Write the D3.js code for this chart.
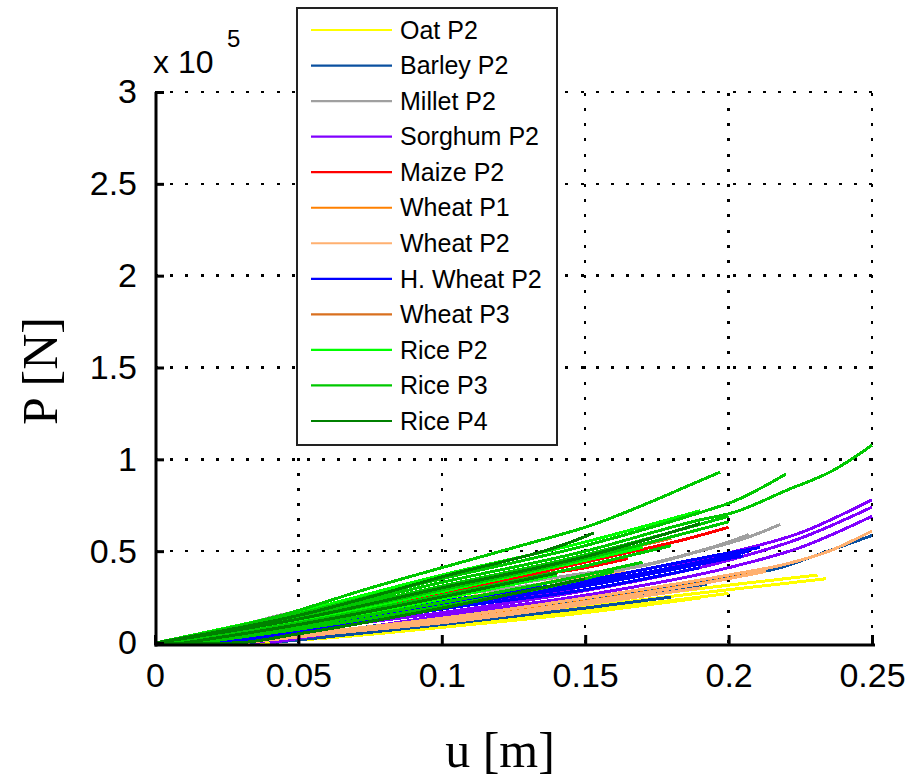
<!DOCTYPE html>
<html>
<head>
<meta charset="utf-8">
<script src="https://cdn.jsdelivr.net/npm/d3@7"></script>
<style>
  body { margin: 0; background: #fff; }
  svg { display: block; }
</style>
</head>
<body>
<svg id="chart" width="922" height="777"></svg>
<script>
// Load–displacement curves, u in metres, P in units of 1e5 N.
// Each series holds several test curves as [u, P] pairs.
const oatP2 = [
  [[0.029,0],[0.05,0.025],[0.075,0.065],[0.1,0.11],[0.15,0.2],[0.2,0.29],[0.22,0.325],[0.234,0.35]],
  [[0.032,0],[0.065,0.035],[0.1,0.095],[0.15,0.18],[0.19,0.25],[0.2,0.27]],
  [[0.036,0],[0.07,0.04],[0.1,0.085],[0.15,0.165],[0.19,0.245]],
  [[0.03,0],[0.06,0.045],[0.1,0.125],[0.15,0.22],[0.2,0.315],[0.231,0.37]]
];
const barleyP2 = [
  [[0.029,0],[0.05,0.04],[0.075,0.09],[0.105,0.15],[0.135,0.2],[0.15,0.23],[0.195,0.35],[0.218,0.41],[0.231,0.48],[0.25,0.585]],
  [[0.033,0],[0.065,0.065],[0.085,0.105],[0.1,0.125],[0.15,0.225],[0.1925,0.32]],
  [[0.04,0],[0.07,0.05],[0.1,0.1],[0.15,0.19],[0.18,0.25]]
];
const milletP2 = [
  [[0.009,0],[0.025,0.07],[0.043,0.15],[0.07,0.22],[0.107,0.28],[0.15,0.38],[0.17,0.42],[0.19,0.5],[0.2075,0.58],[0.218,0.645]],
  [[0.01,0],[0.05,0.12],[0.1,0.25],[0.15,0.36],[0.18,0.46],[0.2,0.55],[0.207,0.59]]
];
const sorghumP2 = [
  [[0.03,0],[0.06,0.1],[0.1,0.185],[0.15,0.31],[0.2,0.49],[0.225,0.6],[0.25,0.78]],
  [[0.035,0],[0.06,0.08],[0.1,0.165],[0.15,0.285],[0.2,0.45],[0.225,0.57],[0.25,0.74]],
  [[0.04,0],[0.07,0.075],[0.1,0.15],[0.15,0.26],[0.2,0.41],[0.225,0.52],[0.25,0.69]]
];
const maizeP2 = [
  [[0,0],[0.05,0.12],[0.1,0.27],[0.15,0.44],[0.17,0.51],[0.185,0.565],[0.2,0.63]],
  [[0.005,0],[0.05,0.1],[0.1,0.24],[0.13,0.36],[0.15,0.41],[0.165,0.46]]
];
const wheatP1 = [
  [[0.029,0],[0.05,0.042],[0.1,0.122],[0.15,0.227],[0.2,0.352],[0.212,0.388]]
];
const wheatP2 = [
  [[0.025,0],[0.05,0.045],[0.1,0.135],[0.15,0.245],[0.2,0.37],[0.22,0.43],[0.235,0.5],[0.25,0.61]],
  [[0.028,0],[0.05,0.04],[0.1,0.12],[0.15,0.225],[0.2,0.35],[0.213,0.39]],
  [[0.03,0],[0.06,0.05],[0.1,0.11],[0.15,0.21],[0.19,0.3]],
  [[0.01,0],[0.05,0.08],[0.1,0.23],[0.125,0.29],[0.14,0.34],[0.165,0.385]]
];
const hWheatP2 = [
  [[0.02,0],[0.05,0.075],[0.065,0.12],[0.1,0.225],[0.15,0.34],[0.2,0.49],[0.211,0.52]],
  [[0.022,0],[0.05,0.07],[0.1,0.21],[0.15,0.325],[0.2,0.475],[0.207,0.5]],
  [[0.025,0],[0.05,0.065],[0.1,0.2],[0.15,0.31],[0.2,0.46],[0.205,0.475]],
  [[0.03,0],[0.06,0.08],[0.1,0.185],[0.15,0.29],[0.19,0.41]]
];
const wheatP3 = [
  [[0,0],[0.05,0.13],[0.1,0.29],[0.15,0.46],[0.18,0.57]]
];
const riceP2 = [
  [[0,0],[0.05,0.17],[0.1,0.37],[0.15,0.55],[0.19,0.72]],
  [[0.005,0],[0.05,0.12],[0.1,0.28],[0.15,0.45],[0.17,0.52]],
  [[0.01,0],[0.05,0.1],[0.1,0.24],[0.14,0.37]]
];
const riceP3 = [
  [[0,0],[0.044,0.15],[0.073,0.29],[0.1,0.41],[0.131,0.545],[0.15,0.63],[0.191,0.89],[0.197,0.93]],
  [[0,0],[0.05,0.15],[0.1,0.33],[0.15,0.5],[0.19,0.67],[0.2016,0.71],[0.22,0.83],[0.2365,0.94],[0.25,1.077]],
  [[0,0],[0.05,0.16],[0.1,0.35],[0.15,0.53],[0.19,0.71],[0.2016,0.77],[0.22,0.92]],
  [[0,0],[0.05,0.13],[0.1,0.29],[0.15,0.46],[0.2,0.66]],
  [[0.005,0],[0.05,0.11],[0.1,0.26],[0.15,0.42],[0.18,0.53]],
  [[0.01,0],[0.05,0.09],[0.1,0.22],[0.15,0.37],[0.17,0.44]],
  [[0.015,0],[0.05,0.075],[0.1,0.2],[0.15,0.35],[0.16,0.39]],
  [[0,0],[0.05,0.14],[0.1,0.31],[0.15,0.48],[0.2,0.69]]
];
const riceP4 = [
  [[0,0],[0.05,0.15],[0.1,0.36],[0.15,0.58],[0.153,0.6]],
  [[0,0],[0.05,0.13],[0.1,0.3],[0.15,0.47],[0.19,0.65]],
  [[0,0],[0.027,0],[0.05,0.05],[0.1,0.19],[0.15,0.35]],
  [[0.01,0],[0.05,0.1],[0.1,0.25],[0.14,0.38]]
];

const seriesNames = ["Oat P2","Barley P2","Millet P2","Sorghum P2","Maize P2","Wheat P1",
                     "Wheat P2","H. Wheat P2","Wheat P3","Rice P2","Rice P3","Rice P4"];
const seriesColors = ["#ffff00","#0a50a0","#a0a0a0","#8000ff","#ff0000","#ff8000",
                      "#ffb070","#0000ff","#d9701f","#00ff00","#00c800","#008000"];
const seriesData = [oatP2, barleyP2, milletP2, sorghumP2, maizeP2, wheatP1,
                    wheatP2, hWheatP2, wheatP3, riceP2, riceP3, riceP4];

const xTicks = [0, 0.05, 0.1, 0.15, 0.2, 0.25];
const xTickLabels = ["0","0.05","0.1","0.15","0.2","0.25"];
const yTicks = [0, 0.5, 1, 1.5, 2, 2.5, 3];
const yTickLabels = ["0","0.5","1","1.5","2","2.5","3"];

const svg = d3.select("#chart");
const x = d3.scaleLinear().domain([0, 0.25]).range([155, 872]);
const y = d3.scaleLinear().domain([0, 3]).range([643, 92]);

// dotted grid
const grid = svg.append("g")
  .attr("stroke", "#000").attr("stroke-width", 2.5)
  .attr("stroke-dasharray", "3,12.2").attr("shape-rendering", "crispEdges");
grid.selectAll("line.v").data(xTicks.filter(d => d > 0)).join("line")
  .attr("x1", d => x(d)).attr("x2", d => x(d))
  .attr("y1", y(0)).attr("y2", y(3));
grid.selectAll("line.h").data(yTicks.filter(d => d > 0)).join("line")
  .attr("x1", x(0)).attr("x2", x(0.25))
  .attr("y1", d => y(d)).attr("y2", d => y(d));

// curves, drawn in series order
const line = d3.line().x(d => x(d[0])).y(d => y(d[1])).curve(d3.curveMonotoneX);
const curves = svg.append("g").attr("fill", "none").attr("stroke-width", 3)
  .attr("stroke-linejoin", "round").attr("shape-rendering", "crispEdges");
seriesData.forEach((set, i) => {
  curves.append("g").attr("stroke", seriesColors[i])
    .selectAll("path").data(set).join("path").attr("d", line);
});

// axes with inward ticks
const fontTick = "'Liberation Sans', Arial, sans-serif";
const xAxis = svg.append("g").attr("transform", "translate(0,645)")
  .call(d3.axisBottom(x).tickValues(xTicks).tickFormat((d, i) => xTickLabels[i])
    .tickSizeInner(-10).tickSizeOuter(0).tickPadding(18));
const yAxis = svg.append("g").attr("transform", "translate(156,0)")
  .call(d3.axisLeft(y).tickValues(yTicks).tickFormat((d, i) => yTickLabels[i])
    .tickSizeInner(-8).tickSizeOuter(0).tickPadding(19));
[xAxis, yAxis].forEach(a => {
  a.select(".domain").remove();
  a.selectAll(".tick line").attr("stroke", "#000").attr("stroke-width", 3);
  a.selectAll(".tick text").attr("fill", "#000")
    .style("font-family", fontTick).style("font-size", "34px");
});
svg.append("line").attr("x1", 154.5).attr("x2", 875).attr("y1", 645).attr("y2", 645)
  .attr("stroke", "#000").attr("stroke-width", 3);
svg.append("line").attr("x1", 156).attr("x2", 156).attr("y1", y(3)).attr("y2", 646.5)
  .attr("stroke", "#000").attr("stroke-width", 3);

// exponent note
svg.append("text").attr("x", 153).attr("y", 73).text("x 10")
  .style("font-family", fontTick).style("font-size", "32px").attr("fill", "#000");
svg.append("text").attr("x", 227).attr("y", 47).text("5")
  .style("font-family", fontTick).style("font-size", "24px").attr("fill", "#000");

// axis titles
const fontTitle = "'Liberation Serif', 'Times New Roman', serif";
svg.append("text").attr("x", 500).attr("y", 767).attr("text-anchor", "middle")
  .style("font-family", fontTitle).style("font-size", "50px").text("u [m]");
svg.append("text").attr("transform", "translate(57,371) rotate(-90)").attr("text-anchor", "middle")
  .style("font-family", fontTitle).style("font-size", "50px").text("P [N]");

// legend
const legend = svg.append("g");
legend.append("rect").attr("x", 297).attr("y", 8).attr("width", 260).attr("height", 437)
  .attr("fill", "#fff").attr("stroke", "#222").attr("stroke-width", 2);
const rowY = d3.scaleLinear().domain([0, 11]).range([30, 421]);
const rows = legend.selectAll("g.row").data(seriesNames).join("g")
  .attr("transform", (d, i) => `translate(0,${rowY(i)})`);
rows.append("line").attr("x1", 311).attr("x2", 392)
  .attr("stroke", (d, i) => seriesColors[i]).attr("stroke-width", 2.2);
rows.append("text").attr("x", 400).attr("dy", "0.35em").text(d => d)
  .style("font-family", fontTick).style("font-size", "25px").attr("fill", "#000");
</script>
</body>
</html>
